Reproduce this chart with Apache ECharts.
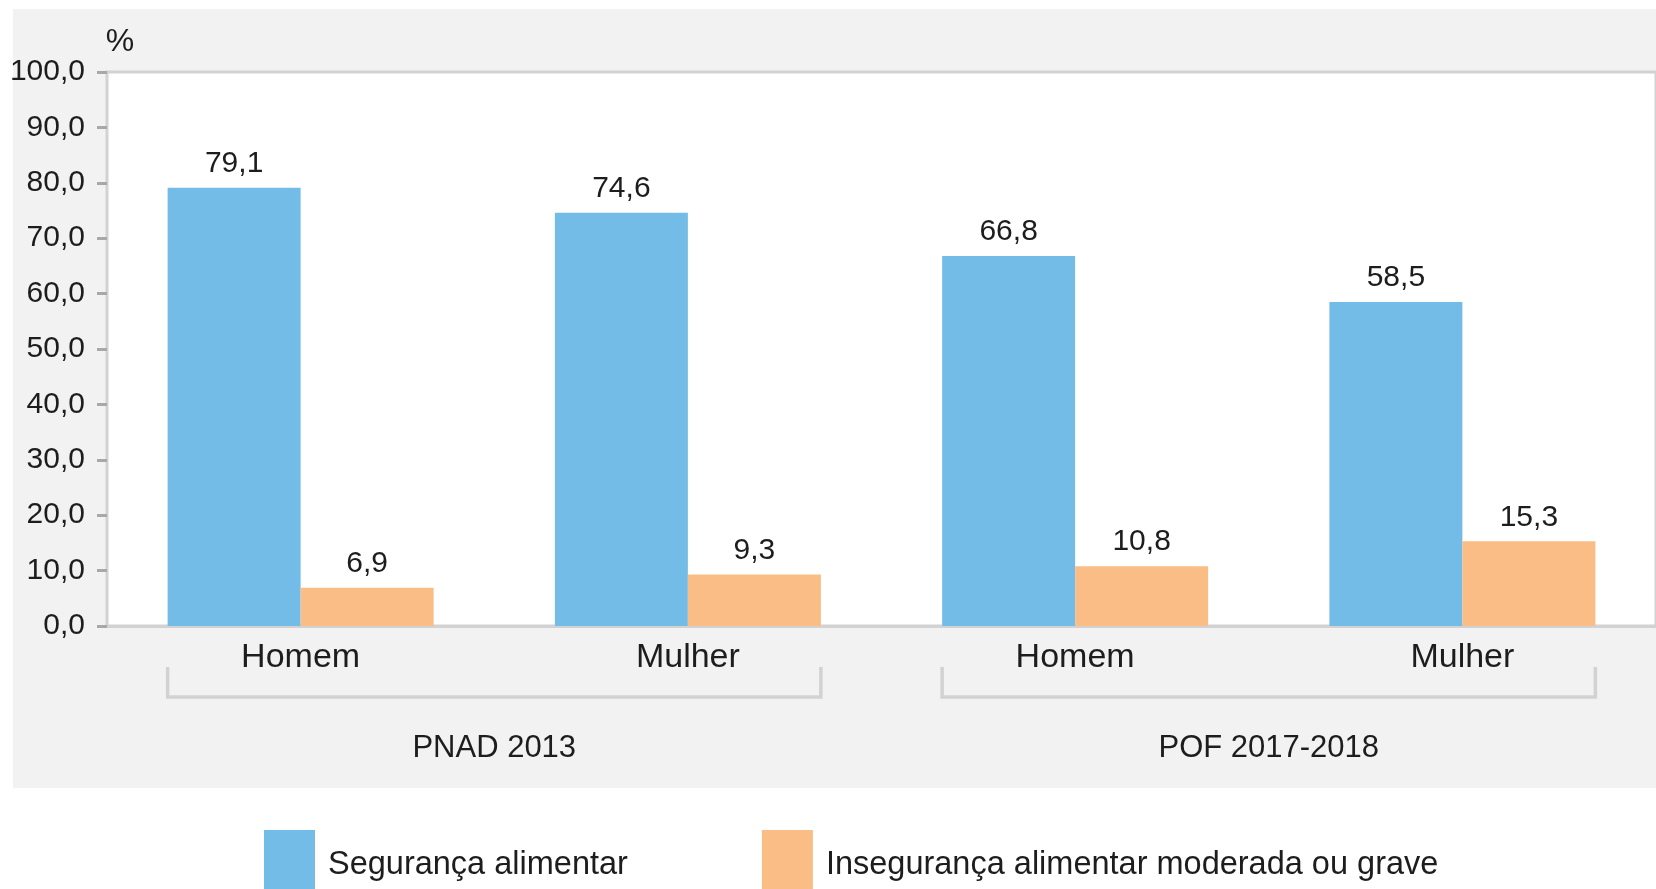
<!DOCTYPE html>
<html>
<head>
<meta charset="utf-8">
<script src="https://cdn.jsdelivr.net/npm/echarts@6/dist/echarts.min.js"></script>
<style>
html,body{margin:0;padding:0;background:#fff;}
#main{width:1656px;height:889px;}
</style>
</head>
<body>
<div id="main"></div>
<script>
var categories=['Homem','Mulher','Homem','Mulher'];
var groups=['PNAD 2013','POF 2017-2018'];
var groupSpans=[[0,1],[2,3]];
var seguranca=[79.1,74.6,66.8,58.5];
var inseguranca=[6.9,9.3,10.8,15.3];
var seriesNames=['Segurança alimentar','Insegurança alimentar moderada ou grave'];

var font="'Liberation Sans Narrow','Arial Narrow','Liberation Sans',sans-serif";
var txt='#1d1d1d';
var barW=133;

function fmt(v){
    return Number(v).toFixed(1).replace('.',',');
}

var myChart=echarts.init(document.getElementById('main'));
var option={
    animation:false,
    textStyle:{fontFamily:font},
    graphic:[{
        type:'rect',
        z:-100,
        left:13,top:9,
        shape:{width:1643,height:779},
        style:{fill:'#f2f2f2'}
    }],
    legend:{
        data:seriesNames,
        left:259,
        top:825,
        itemWidth:51,
        itemHeight:70,
        itemGap:134,
        icon:'rect',
        textStyle:{fontFamily:font,fontSize:32.5,color:txt,padding:[0,0,0,8]}
    },
    grid:{
        left:107,right:0,top:72,bottom:263,
        show:true,
        backgroundColor:'#fff',
        borderColor:'#d2d2d2',
        borderWidth:3
    },
    xAxis:[
        {
            type:'category',
            data:categories,
            axisLine:{lineStyle:{color:'#d2d2d2',width:3}},
            axisTick:{show:false},
            axisLabel:{fontFamily:font,fontSize:34,color:txt,margin:15}
        },
        {
            type:'category',
            data:groups,
            position:'bottom',
            axisLine:{show:false},
            axisTick:{show:false},
            axisLabel:{fontFamily:font,fontSize:31,color:txt,margin:107}
        }
    ],
    yAxis:{
        type:'value',
        min:0,max:100,interval:10,
        name:'%',
        nameLocation:'end',
        nameGap:14,
        nameTextStyle:{fontFamily:font,fontSize:32,color:txt,padding:[0,0,0,26]},
        axisLine:{show:true,lineStyle:{color:'#d2d2d2',width:2}},
        axisTick:{show:true,length:10,lineStyle:{color:'#a8a8a8',width:3}},
        splitLine:{show:false},
        axisLabel:{fontFamily:font,fontSize:30,color:txt,margin:22,formatter:fmt}
    },
    series:[
        {
            name:seriesNames[0],
            type:'bar',
            barWidth:barW,
            barGap:'0%',
            itemStyle:{color:'#74bce8'},
            label:{show:true,position:'top',distance:9,fontFamily:font,fontSize:30,color:txt,formatter:function(p){return fmt(p.value);}},
            data:seguranca
        },
        {
            name:seriesNames[1],
            type:'bar',
            barWidth:barW,
            barGap:'0%',
            itemStyle:{color:'#f9bd85'},
            label:{show:true,position:'top',distance:9,fontFamily:font,fontSize:30,color:txt,formatter:function(p){return fmt(p.value);}},
            data:inseguranca
        },
        {
            name:'brackets',
            type:'custom',
            silent:true,
            encode:{x:0,y:1},
            renderItem:function(params,api){
                var c0=api.coord([api.value(0),0]);
                var c1=api.coord([api.value(1),0]);
                var l=c0[0]-barW, r=c1[0]+barW;
                var t=c0[1]+41, b=c0[1]+71;
                return {
                    type:'polyline',
                    shape:{points:[[l,t],[l,b],[r,b],[r,t]]},
                    style:{stroke:'#d2d2d2',lineWidth:3.5,fill:null}
                };
            },
            data:groupSpans
        }
    ]
};
myChart.setOption(option);
</script>
</body>
</html>
